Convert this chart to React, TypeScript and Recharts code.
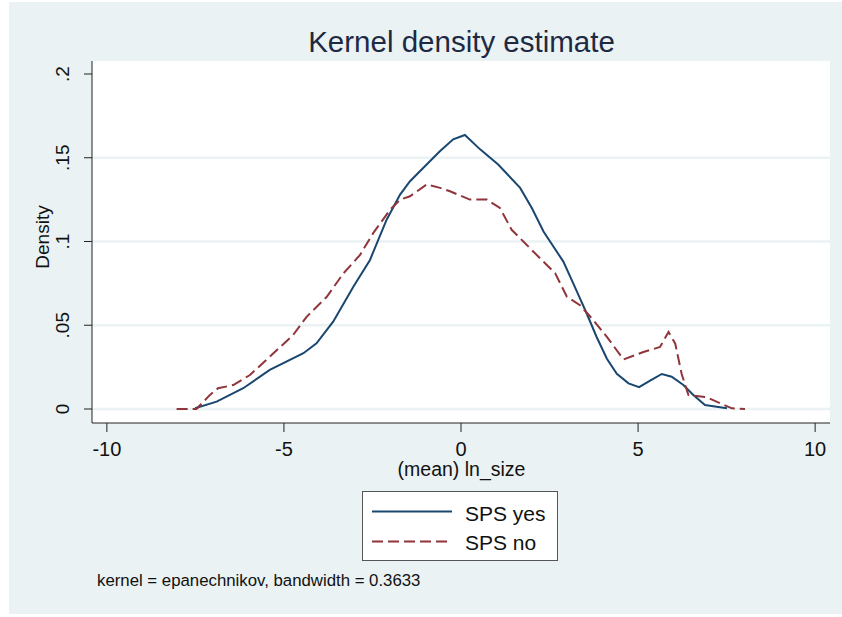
import { LineChart, Line, XAxis, YAxis, CartesianGrid } from 'recharts';

// kernel density curves
const yesX = [-7.51, -6.9, -6.15, -5.4, -4.45, -4.08, -3.61, -3.04, -2.57, -2.1, -1.72, -1.44, -0.97, -0.59, -0.22, 0.11, 0.54, 1.05, 1.67, 2.0, 2.33, 2.89, 3.17, 3.55, 3.83, 4.12, 4.4, 4.73, 5.03, 5.34, 5.67, 5.95, 6.28, 6.56, 6.89, 7.51];
const yesY = [0.0004, 0.0044, 0.0124, 0.0233, 0.0333, 0.0392, 0.0521, 0.073, 0.089, 0.113, 0.128, 0.136, 0.146, 0.154, 0.161, 0.1636, 0.155, 0.146, 0.132, 0.12, 0.106, 0.088, 0.075, 0.057, 0.043, 0.03, 0.021, 0.0153, 0.013, 0.0169, 0.0209, 0.0193, 0.0143, 0.0084, 0.0024, 0.0004];

const noX = [-8.03, -7.47, -7.09, -6.86, -6.43, -5.96, -5.4, -4.74, -4.36, -3.79, -3.32, -2.85, -2.48, -2.0, -1.72, -1.44, -0.97, -0.59, -0.31, 0.25, 0.73, 1.1, 1.43, 1.76, 2.23, 2.66, 2.99, 3.36, 3.74, 4.12, 4.59, 5.15, 5.62, 5.86, 6.05, 6.23, 6.42, 6.94, 7.32, 7.65, 8.02];
const noY = [0, 0, 0.0084, 0.0124, 0.0143, 0.0203, 0.0312, 0.0442, 0.055, 0.067, 0.081, 0.092, 0.105, 0.119, 0.125, 0.127, 0.134, 0.132, 0.13, 0.125, 0.125, 0.12, 0.107, 0.1, 0.09, 0.081, 0.067, 0.062, 0.053, 0.043, 0.0296, 0.034, 0.037, 0.046, 0.039, 0.021, 0.0084, 0.007, 0.0034, 0.0004, 0];

const xTicks = [-10, -5, 0, 5, 10];
const yTicks = [0, 0.05, 0.1, 0.15, 0.2];
const yTickLabels = ['0', '.05', '.1', '.15', '.2'];
const gridValues = [0, 0.05, 0.1, 0.15];

const yesData = yesX.map((x, i) => ({ x, y: yesY[i] }));
const noData = noX.map((x, i) => ({ x, y: noY[i] }));

const NAVY = '#1A476F';
const MAROON = '#90353B';
const BG = '#EAF2F3';
const FONT = '"Liberation Sans", Arial, sans-serif';

function YTick(props: any) {
  const { x, y, payload } = props;
  const bx = x - 13;
  const idx = yTicks.indexOf(payload.value);
  return (
    <text x={bx} y={y} transform={`rotate(-90, ${bx}, ${y})`} textAnchor="middle" fontSize={19} fill="#111" fontFamily={FONT}>
      {idx >= 0 ? yTickLabels[idx] : payload.value}
    </text>
  );
}

function XTick(props: any) {
  const { x, y, payload } = props;
  return (
    <text x={x} y={y + 24} textAnchor="middle" fontSize={20} fill="#111" fontFamily={FONT}>
      {payload.value}
    </text>
  );
}

export default function App() {
  return (
    <div style={{ position: 'absolute', left: 0, top: 0, width: 842, height: 617, background: '#fff', fontFamily: FONT }}>
      <div style={{ position: 'absolute', left: 9, top: 2, width: 833, height: 612, background: BG }} />
      <div style={{ position: 'absolute', left: 0, top: 0 }}>
        <LineChart width={842} height={617} margin={{ top: 61, right: 12, bottom: 164, left: 32 }}>
          <CartesianGrid fill="#fff" fillOpacity={1} vertical={false} horizontalValues={gridValues} stroke={BG} strokeWidth={2.5} />
          <XAxis
            type="number"
            dataKey="x"
            domain={[-10.42, 10.42]}
            ticks={xTicks}
            allowDataOverflow
            height={30}
            tickSize={9}
            tickMargin={0}
            tick={<XTick />}
            axisLine={{ stroke: '#222' }}
            tickLine={{ stroke: '#222' }}
          />
          <YAxis
            type="number"
            dataKey="y"
            domain={[-0.00836, 0.20776]}
            ticks={yTicks}
            allowDataOverflow
            width={60}
            tickSize={8}
            tick={<YTick />}
            axisLine={{ stroke: '#222' }}
            tickLine={{ stroke: '#222' }}
          />
          <Line data={yesData} dataKey="y" name="SPS yes" type="linear" stroke={NAVY} strokeWidth={2} dot={false} isAnimationActive={false} />
          <Line data={noData} dataKey="y" name="SPS no" type="linear" stroke={MAROON} strokeWidth={2} strokeDasharray="11 5" dot={false} isAnimationActive={false} />
        </LineChart>
      </div>
      <svg width={842} height={617} style={{ position: 'absolute', left: 0, top: 0, pointerEvents: 'none' }}>
        <text x={461.5} y={51.5} textAnchor="middle" fontSize={29.5} fill="#1E2A44" fontFamily={FONT}>Kernel density estimate</text>
        <text x={48.5} y={237} transform="rotate(-90, 48.5, 237)" textAnchor="middle" fontSize={19} fill="#111" fontFamily={FONT}>Density</text>
        <text x={461.5} y={476} textAnchor="middle" fontSize={19.5} fill="#111" fontFamily={FONT}>(mean) ln_size</text>
        <rect x={362.5} y={491.5} width={195} height={69} fill="#fff" stroke="#555" strokeWidth={1} />
        <line x1={372} x2={452} y1={511.5} y2={511.5} stroke={NAVY} strokeWidth={2} />
        <text x={465} y={520.5} fontSize={21} fill="#111" fontFamily={FONT}>SPS yes</text>
        <line x1={372} x2={452} y1={541.5} y2={541.5} stroke={MAROON} strokeWidth={2} strokeDasharray="11 5" />
        <text x={465} y={549.5} fontSize={21} fill="#111" fontFamily={FONT}>SPS no</text>
        <text x={97} y={586} fontSize={16.8} fill="#111" fontFamily={FONT}>kernel = epanechnikov, bandwidth = 0.3633</text>
      </svg>
    </div>
  );
}
